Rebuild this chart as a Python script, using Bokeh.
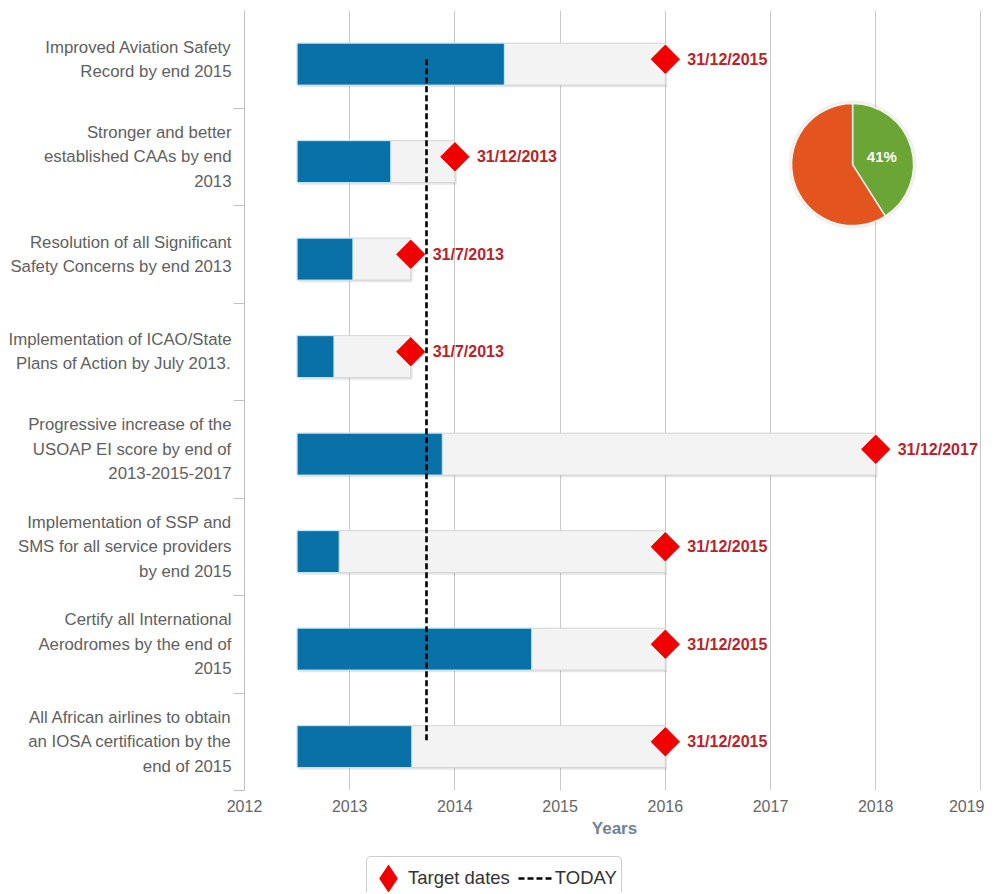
import math
from bokeh.plotting import figure
from bokeh.layouts import column
from bokeh.models import Range1d, FixedTicker, Legend, LegendItem, ColumnDataSource
from bokeh.core.properties import value
from bokeh.embed import file_html
from bokeh.resources import INLINE

# ---------------- data ----------------
categories = [
    "Improved Aviation Safety\nRecord by end 2015",
    "Stronger and better\nestablished CAAs by end\n2013",
    "Resolution of all Significant\nSafety Concerns by end 2013",
    "Implementation of ICAO/State\nPlans of Action by July 2013.",
    "Progressive increase of the\nUSOAP EI score by end of\n2013-2015-2017",
    "Implementation of SSP and\nSMS for all service providers\nby end 2015",
    "Certify all International\nAerodromes by the end of\n2015",
    "All African airlines to obtain\nan IOSA certification by the\nend of 2015",
]
start_years = [2012.5, 2012.5, 2012.5, 2012.5, 2012.5, 2012.5, 2012.5, 2012.5]
progress_years = [2014.47, 2013.39, 2013.03, 2012.85, 2013.88, 2012.90, 2014.73, 2013.59]
target_years = [2016.0, 2014.0, 2013.58, 2013.58, 2018.0, 2016.0, 2016.0, 2016.0]
target_labels = ["31/12/2015", "31/12/2013", "31/7/2013", "31/7/2013",
                 "31/12/2017", "31/12/2015", "31/12/2015", "31/12/2015"]
today_year = 2013.73
year_ticks = [2012, 2013, 2014, 2015, 2016, 2017, 2018, 2019]
pie_labels = ["Completed", "Remaining"]
pie_values = [41, 59]
legend_labels = ["Target dates", "TODAY"]

# ---------------- style ----------------
FONT = "Liberation Sans"
BLUE = "#0a70a8"
RED = "#f00000"
LABEL_RED = "#b9232a"
PIE_COLORS = ["#6aa535", "#e4541e"]
BAR_HEIGHT = 0.43
BAR_SHIFT = 0.05
SHADOW_DY = 0.022
SHADOW_DX = 0.018
PIE_X, PIE_Y, PIE_R = 2017.78, 6.42, 61
TODAY_STYLE = dict(line_color="black", line_width=2.6, line_dash="6 3")

n = len(categories)
ypos = [n - i - 0.5 for i in range(n)]

p = figure(width=984, height=850, title=None,
           x_range=Range1d(2012, 2019.034), y_range=Range1d(0, n),
           output_backend="svg", toolbar_location=None,
           min_border_left=244, min_border_right=0,
           min_border_top=10, min_border_bottom=60)
p.outline_line_color = None
p.background_fill_color = "white"

# x axis
p.xaxis.ticker = FixedTicker(ticks=year_ticks)
p.xaxis.axis_label = "Years"
p.xaxis.axis_line_color = None
p.xaxis.major_tick_line_color = None
p.xaxis.minor_tick_line_color = None
p.xaxis.major_label_standoff = 3
p.xaxis.major_label_text_font = FONT
p.xaxis.major_label_text_font_size = "16px"
p.xaxis.major_label_text_color = "#666666"
p.xaxis.axis_label_text_font = FONT
p.xaxis.axis_label_text_font_size = "17px"
p.xaxis.axis_label_text_font_style = "bold"
p.xaxis.axis_label_text_color = "#6f8399"
p.xaxis.axis_label_standoff = 4
p.xgrid.ticker = FixedTicker(ticks=year_ticks)
p.xgrid.grid_line_color = "#c8c8c8"
p.ygrid.grid_line_color = None

# y axis
p.yaxis.ticker = FixedTicker(ticks=ypos, minor_ticks=list(range(0, n)))
p.yaxis.major_label_overrides = {y: c for y, c in zip(ypos, categories)}
p.yaxis.axis_line_color = "#c0c0c0"
p.yaxis.major_tick_line_color = None
p.yaxis.minor_tick_line_color = "#c0c0c0"
p.yaxis.minor_tick_out = 11
p.yaxis.minor_tick_in = 0
p.yaxis.major_label_standoff = 2
p.yaxis.major_label_text_font = FONT
p.yaxis.major_label_text_font_size = "16.8px"
p.yaxis.major_label_text_color = "#606060"
p.yaxis.major_label_text_line_height = 1.28

src = ColumnDataSource(dict(
    y=ypos,
    ybar=[y - BAR_SHIFT for y in ypos],
    yshadow=[y - BAR_SHIFT - SHADOW_DY for y in ypos],
    start=start_years,
    start_sh=[s + SHADOW_DX for s in start_years],
    progress=progress_years,
    target=target_years,
    target_sh=[t + SHADOW_DX for t in target_years],
    label=target_labels,
))

# bars (with soft shadow)
p.hbar(y="yshadow", left="start_sh", right="target_sh", height=BAR_HEIGHT, source=src,
       fill_color="black", fill_alpha=0.10, line_color=None)
p.hbar(y="ybar", left="start", right="target", height=BAR_HEIGHT, source=src,
       fill_color="#f3f3f3", line_color="#d4d4d4", line_width=1)
p.hbar(y="ybar", left="start", right="progress", height=BAR_HEIGHT, source=src,
       fill_color=BLUE, line_color="#c6ecf8", line_width=1)

# today line
p.line(x=[today_year, today_year], y=[ypos[0], ypos[-1]], **TODAY_STYLE)

# target diamonds
p.scatter(x="target", y="y", source=src, marker="square", angle=math.pi / 4,
          size=20, fill_color=RED, line_color=RED)
p.text(x="target", y="y", text="label", source=src, x_offset=22,
       text_baseline="middle", text_align="left", text_font=value(FONT),
       text_font_style="bold", text_font_size="16px", text_color=LABEL_RED)

# pie
total = float(sum(pie_values))
acc = math.pi / 2
starts, ends = [], []
for v in pie_values:
    e = acc
    s = acc - 2 * math.pi * v / total
    starts.append(s)
    ends.append(e)
    acc = s
p.scatter(x=[PIE_X], y=[PIE_Y], marker="circle", size=2 * PIE_R + 6,
          fill_color="black", fill_alpha=0.06, line_color=None)
p.wedge(x=PIE_X, y=PIE_Y, radius=PIE_R, radius_units="screen",
        start_angle=starts, end_angle=ends, fill_color=PIE_COLORS,
        line_color="#f4f4ea", line_width=1.5)
mid = (starts[0] + ends[0]) / 2
p.text(x=[PIE_X], y=[PIE_Y], text=["%d%%" % pie_values[0]],
       x_offset=0.5 * PIE_R * math.cos(mid), y_offset=-0.5 * PIE_R * math.sin(mid),
       text_align="center", text_baseline="middle", text_font=value(FONT),
       text_font_style="bold", text_font_size="15px", text_color="white")

# ---------------- legend strip ----------------
lg = figure(width=984, height=42, title=None, x_axis_type=None, y_axis_type=None,
            x_range=Range1d(0, 1), y_range=Range1d(0, 1),
            output_backend="svg", toolbar_location=None,
            min_border_left=0, min_border_right=0, min_border_top=0, min_border_bottom=0)
lg.outline_line_color = None
lg.grid.visible = False
# legend-only renderers: points kept outside the visible range
offscreen = ColumnDataSource(dict(x=[-10.0, -11.0], y=[-10.0, -11.0]))
leg_diamond = lg.scatter(x="x", y="y", source=offscreen, marker="diamond",
                         fill_color=RED, line_color=RED, line_width=8,
                         line_join="miter")
leg_today = lg.line(x="x", y="y", source=offscreen, **TODAY_STYLE)
legend = Legend(items=[LegendItem(label=legend_labels[0], renderers=[leg_diamond]),
                       LegendItem(label=legend_labels[1], renderers=[leg_today])],
                orientation="horizontal", location=(122, -8),
                label_text_font=FONT, label_text_font_size="18.5px",
                label_text_color="#333333",
                border_line_color="#9a9a9a", border_line_width=1,
                background_fill_color="white", background_fill_alpha=1,
                padding=4, spacing=8, margin=0,
                glyph_width=34, glyph_height=34, label_standoff=3)
if "border_radius" in Legend.properties():
    legend.border_radius = 5
lg.add_layout(legend, "center")

layout = column(p, lg, spacing=0)
open("out.html", "w").write(file_html(layout, INLINE))
